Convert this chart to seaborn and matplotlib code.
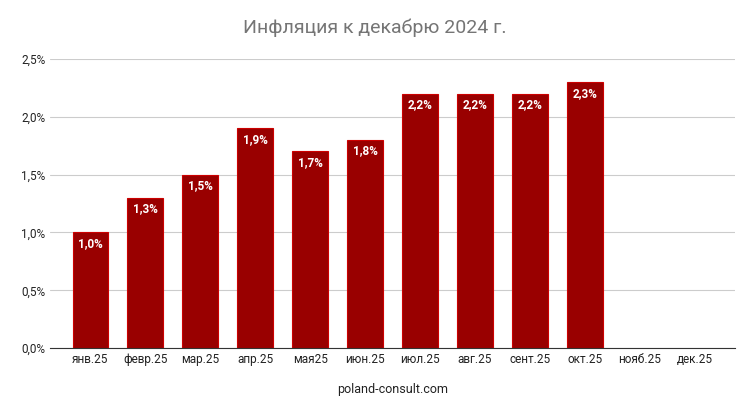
import matplotlib
matplotlib.use("Agg")
import matplotlib.pyplot as plt
import seaborn as sns
import numpy as np
import pandas as pd
from matplotlib.ticker import FuncFormatter

months = ["янв.25","февр.25","мар.25","апр.25","мая25","июн.25","июл.25","авг.25","сент.25","окт.25","нояб.25","дек.25"]
values = [1.0,1.3,1.5,1.9,1.7,1.8,2.2,2.2,2.2,2.3,np.nan,np.nan]
yticks = [0,0.5,1.0,1.5,2.0,2.5]

df = pd.DataFrame({"m": months, "v": values})
sns.set_style("white")
plt.rcParams['font.family'] = ['Roboto', 'DejaVu Sans']

fig = plt.figure(figsize=(7.5,4.12), dpi=100)
ax = fig.add_axes([0.067, 0.155, 0.913, 0.702])
sns.barplot(data=df, x="m", y="v", color="#990000", width=0.65, ax=ax,
            edgecolor="#cc0000", linewidth=0.8, saturation=1)
ax.set_ylim(0, 2.5)
ax.set_xlim(-0.73, 11.73)
ax.set_yticks(yticks)
ax.yaxis.set_major_formatter(FuncFormatter(lambda v, p: f"{v:.1f}%".replace(".", ",")))
ax.grid(axis="y", color="#cccccc", linewidth=0.8)
ax.set_axisbelow(True)
for s in ["top","right","left"]:
    ax.spines[s].set_visible(False)
ax.spines["bottom"].set_color("#333333")
ax.tick_params(axis="both", length=0, labelsize=8.5, colors="#222222")
ax.set_ylabel("")
ax.set_xlabel("poland-consult.com", fontsize=9, color="#222222", labelpad=12)
for p, v in zip(ax.patches, values):
    if not np.isnan(v):
        ax.text(p.get_x()+p.get_width()/2, v-0.04, f"{v:.1f}%".replace(".", ","),
                ha="center", va="top", color="white", fontsize=8.5, fontweight="bold")
fig.suptitle("Инфляция к декабрю 2024 г.", y=0.955, fontsize=14, color="#757575")
fig.savefig("out.png", dpi=100)
